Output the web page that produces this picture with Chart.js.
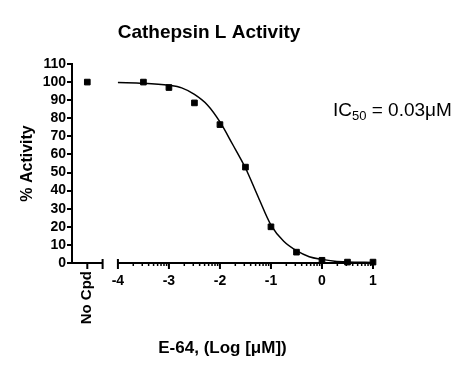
<!DOCTYPE html>
<html>
<head>
<meta charset="utf-8">
<script src="https://cdn.jsdelivr.net/npm/chart.js@4.4.1/dist/chart.umd.min.js"></script>
<style>
  html, body { margin: 0; padding: 0; background: #fff; }
</style>
</head>
<body>
<canvas id="ic50Chart" width="467" height="377"></canvas>
<script>
// E-64 vs Cathepsin L dose response

const logConc = [-3.5, -3, -2.5, -2, -1.5, -1, -0.5, 0, 0.5, 1];
const activity = [100, 97, 88.5, 76.5, 53, 20, 6, 1.5, 0.5, 0.5];
const noCpdActivity = 100;

// fitted curve
const fitLogConc = [-4, -3.5, -3, -2.75, -2.5, -2.25, -2, -1.75, -1.5, -1.25, -1, -0.75, -0.5, -0.25, 0, 0.25, 0.5, 1];
const fitActivity = [99.8, 99.4, 98.2, 96.8, 93.2, 87.5, 78, 65.5, 52.5, 36.5, 21, 12, 6.8, 3.5, 2, 1, 0.6, 0.3];

const xTickValues = [-4, -3, -2, -1, 0, 1];
const yTickValues = [0, 10, 20, 30, 40, 50, 60, 70, 80, 90, 100, 110];

const NO_CPD_X = -4.6;   // where the "No Cpd" control sits on the broken axis
const BREAK_END = -4.3;  // end of the short control segment
const FONT = "Arial, 'Liberation Sans', sans-serif";

// Draws the axis lines (broken x axis), log minor ticks and the extra labels
const extrasPlugin = {
    id: 'extras',
    afterDraw(chart) {
        const { ctx, chartArea, scales: { x, y } } = chart;
        const y0 = y.getPixelForValue(0);
        const px = v => x.getPixelForValue(v);

        ctx.save();
        ctx.strokeStyle = '#000';
        ctx.fillStyle = '#000';
        ctx.lineWidth = 2;

        ctx.beginPath();
        // y axis
        ctx.moveTo(chartArea.left, y.getPixelForValue(110) - 1);
        ctx.lineTo(chartArea.left, y0 + 1);
        // short control segment
        ctx.moveTo(chartArea.left, y0);
        ctx.lineTo(px(BREAK_END), y0);
        ctx.moveTo(px(NO_CPD_X), y0);
        ctx.lineTo(px(NO_CPD_X), y0 + 6);
        ctx.moveTo(px(BREAK_END), y0 - 4);
        ctx.lineTo(px(BREAK_END), y0 + 6);
        // main segment
        ctx.moveTo(px(-4), y0);
        ctx.lineTo(px(1), y0);
        ctx.moveTo(px(-4), y0 - 4);
        ctx.lineTo(px(-4), y0 + 6);
        xTickValues.forEach(v => {
            ctx.moveTo(px(v), y0);
            ctx.lineTo(px(v), y0 + 6);
        });
        ctx.stroke();

        // minor log ticks
        ctx.lineWidth = 1.5;
        ctx.beginPath();
        for (let d = -4; d < 1; d++) {
            for (let k = 2; k <= 9; k++) {
                const xp = px(d + Math.log10(k));
                ctx.moveTo(xp, y0);
                ctx.lineTo(xp, y0 + 3);
            }
        }
        ctx.stroke();

        // title
        ctx.font = `bold 19px ${FONT}`;
        ctx.textAlign = 'center';
        ctx.textBaseline = 'middle';
        ctx.fillText('Cathepsin L Activity', 209, 33);

        // y title
        ctx.save();
        ctx.translate(28, (chartArea.top + chartArea.bottom) / 2);
        ctx.rotate(-Math.PI / 2);
        ctx.font = `bold 16px ${FONT}`;
        ctx.fillText('% Activity', 0, 0);
        ctx.restore();

        // control label
        ctx.save();
        ctx.translate(px(NO_CPD_X), 271);
        ctx.rotate(-Math.PI / 2);
        ctx.font = `bold 15px ${FONT}`;
        ctx.textAlign = 'right';
        ctx.fillText('No Cpd', 0, 0);
        ctx.restore();

        // IC50 note
        ctx.textAlign = 'left';
        ctx.textBaseline = 'alphabetic';
        let tx = 333;
        ctx.font = `19px ${FONT}`;
        ctx.fillText('IC', tx, 116);
        tx += ctx.measureText('IC').width;
        ctx.font = `13px ${FONT}`;
        ctx.fillText('50', tx, 120);
        tx += ctx.measureText('50').width;
        ctx.font = `19px ${FONT}`;
        ctx.fillText(' = 0.03\u03BCM', tx, 116);

        ctx.restore();
    }
};

const ctx = document.getElementById('ic50Chart').getContext('2d');
new Chart(ctx, {
    type: 'scatter',
    data: {
        datasets: [
            {
                label: 'Fit',
                type: 'line',
                data: fitLogConc.map((v, i) => ({ x: v, y: fitActivity[i] })),
                borderColor: '#000',
                borderWidth: 1.5,
                pointRadius: 0,
                cubicInterpolationMode: 'monotone',
                fill: false,
                clip: false
            },
            {
                label: 'E-64',
                data: logConc.map((v, i) => ({ x: v, y: activity[i] })),
                backgroundColor: '#000',
                borderColor: '#000',
                pointStyle: 'rect',
                pointRadius: 4,
                clip: false
            },
            {
                label: 'No Cpd',
                data: [{ x: NO_CPD_X, y: noCpdActivity }],
                backgroundColor: '#000',
                borderColor: '#000',
                pointStyle: 'rect',
                pointRadius: 4,
                clip: false
            }
        ]
    },
    options: {
        responsive: false,
        animation: false,
        layout: { padding: { top: 64, left: 20, right: 94, bottom: 15 } },
        plugins: {
            legend: { display: false },
            tooltip: { enabled: false }
        },
        scales: {
            x: {
                type: 'linear',
                min: -4.9,
                max: 1,
                afterBuildTicks: s => { s.ticks = xTickValues.map(v => ({ value: v })); },
                afterFit: s => { s.height = 99; },
                grid: { display: false, drawTicks: false },
                border: { display: false },
                ticks: {
                    color: '#000',
                    font: { family: FONT, size: 14, weight: 'bold' },
                    padding: 10,
                    maxRotation: 0,
                    autoSkip: false
                },
                title: {
                    display: true,
                    text: 'E-64, (Log [\u03BCM])',
                    color: '#000',
                    font: { family: FONT, size: 17, weight: 'bold' },
                    padding: { top: 0, bottom: 3 }
                }
            },
            y: {
                min: 0,
                max: 110,
                afterBuildTicks: s => { s.ticks = yTickValues.map(v => ({ value: v })); },
                afterFit: s => { s.width = 52; },
                border: { display: false },
                grid: { drawOnChartArea: false, color: '#000', lineWidth: 2, tickLength: 5 },
                ticks: {
                    color: '#000',
                    font: { family: FONT, size: 14, weight: 'bold' },
                    padding: 1,
                    autoSkip: false
                }
            }
        }
    },
    plugins: [extrasPlugin]
});
</script>
</body>
</html>
